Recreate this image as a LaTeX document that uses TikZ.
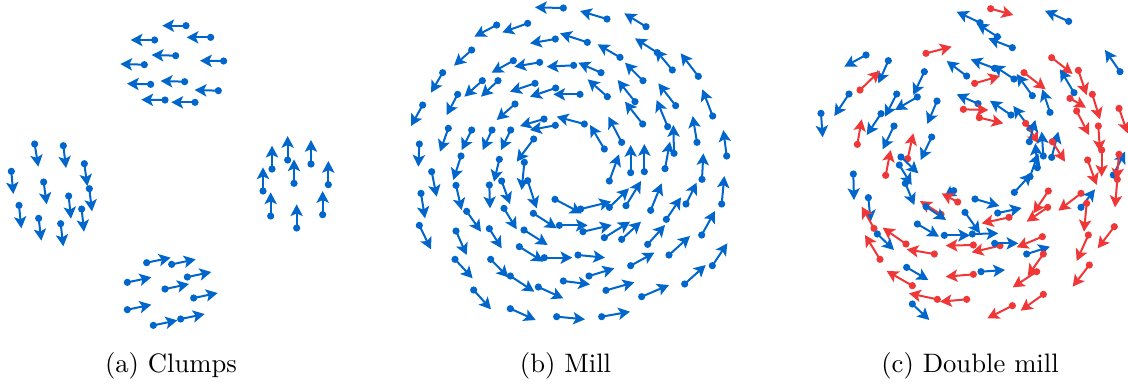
\documentclass[tikz,border=0pt]{standalone}
\usetikzlibrary{arrows.meta}
\definecolor{colb}{RGB}{0,102,204}
\definecolor{colr}{RGB}{240,55,55}
\tikzset{
  ag/.style={line width=0.75pt, -{Stealth[length=4.4pt,width=4.6pt,inset=1pt]}},
  zoomed/.style={x=0.125pt,y=-0.125pt}
}
\newcommand\agent[5]{\fill[#1] (#2,#3) circle (1.35pt); \draw[ag,#1] (#2,#3) -- (#4,#5);}
\begin{document}
\begin{tikzpicture}[x=0.375pt,y=-0.375pt]
\useasboundingbox (0,0) rectangle (1128,385);
% (a) Clumps
\begin{scope}[zoomed]
\foreach \a/\b/\c/\d in {
558/77/487/77, 632/112/560/112, 464/120/392/120, 527/167/455/165, 671/183/600/182,
433/194/361/192, 554/245/482/243, 452/253/381/251, 655/272/584/270, 495/300/424/299, 585/307/514/307,
104/432/115/500, 190/437/198/504, 253/491/262/558, 34/514/40/582, 131/546/140/613, 268/566/276/634,
206/588/213/656, 57/616/64/685, 245/627/252/695, 116/655/124/722, 182/671/190/739,
816/507/816/437, 863/480/863/408, 933/492/933/420, 882/550/882/478, 985/554/985/483,
789/573/789/502, 812/648/812/577, 968/644/968/573, 890/684/890/613,
440/788/512/773, 515/793/587/778, 382/847/454/832, 562/831/634/816, 495/867/567/852,
581/894/653/879, 382/929/454/914, 542/957/614/942, 460/976/532/961}
{\agent{colb}{\a}{\b}{\c}{\d}}
\end{scope}
% (b) Mill
\begin{scope}[shift={(395,0)},zoomed]
\foreach \a/\b/\c/\d in {
505/24/420/22, 636/57/555/33, 753/80/688/40, 305/75/238/110, 398/70/322/97,
481/117/405/130, 577/127/495/100, 230/150/177/197, 355/182/290/218, 434/187/358/200,
536/196/455/200, 618/218/550/188, 675/172/608/133, 787/158/720/115, 832/210/780/148,
910/229/857/160, 143/218/108/278, 262/242/208/290, 309/242/258/290, 420/250/345/275,
482/264/405/290, 555/283/475/283, 637/290/578/238, 744/242/690/188, 720/305/668/240,
842/317/790/250, 953/348/922/268, 83/315/48/378, 188/283/155/345, 360/312/305/360,
447/357/375/378, 481/376/405/390, 568/372/485/350, 628/447/585/375, 680/427/640/350,
743/372/690/305, 818/380/785/300, 837/460/835/375, 906/427/893/348, 995/468/985/390,
73/432/70/500, 160/385/135/455, 230/390/200/450, 291/390/263/450, 347/390/318/450,
416/417/365/485, 110/515/125/590, 198/468/175/540, 313/478/297/545, 388/487/380/570,
643/543/672/463, 707/518/707/435, 748/515/748/432, 810/506/825/425, 921/538/925/460,
78/580/90/655, 183/556/200/630, 283/555/285/625, 320/543/345/612, 398/542/425/625,
480/598/560/640, 557/627/648/605, 643/622/702/565, 693/617/738/543, 767/631/800/550,
873/612/905/548, 980/612/988/528, 73/676/108/748, 215/634/258/695, 327/625/365/688,
415/640/485/685, 493/676/578/676, 564/695/650/675, 628/713/705/665, 680/718/738/665,
814/658/858/592, 920/705/960/633, 183/693/215/765, 283/686/320/745, 387/690/458/735,
758/733/810/675, 373/740/445/785, 448/773/532/773, 549/765/630/773, 707/797/778/758,
822/765/885/708, 952/797/997/730, 180/778/233/835, 287/778/340/832, 346/828/418/875,
430/861/505/895, 505/843/585/853, 582/828/658/805, 633/871/718/847, 740/890/822/855,
869/852/932/795, 236/870/288/928, 346/926/422/960, 485/950/570/958, 620/950/705/935}
{\agent{colb}{\a}{\b}{\c}{\d}}
\end{scope}
% (c) Double mill
\begin{scope}[shift={(800,0)},zoomed]
\foreach \k/\a/\b/\c/\d in {
r/572/26/640/45, b/540/68/470/35, b/592/110/530/70, b/637/143/565/115, b/806/64/735/32,
b/198/165/133/200, b/265/182/235/250, r/378/160/455/140, r/180/270/240/212, b/147/282/103/348,
b/373/215/340/285, b/63/340/68/412, b/290/282/255/350, b/352/291/285/330, b/243/341/200/405,
b/500/228/440/183, b/584/205/512/178, b/642/237/578/195, r/524/250/600/228, b/697/287/650/222,
r/672/218/737/268, r/755/173/818/222, r/835/211/860/285, b/822/278/780/208, b/960/215/915/150,
b/750/337/727/268, r/810/295/858/323, r/877/283/900/358, r/830/333/867/405, r/957/325/983/400,
b/534/311/470/283, r/490/328/565/330, r/538/353/610/370, b/633/345/570/302, b/690/385/640/318,
r/677/370/716/430, b/411/303/382/372, r/172/433/185/358, b/282/378/248/448, b/395/411/362/480,
r/323/476/340/400, r/257/526/272/450, b/303/471/355/520, b/298/495/335/555, b/316/550/343/615,
b/688/425/706/360, b/730/468/725/395, b/755/472/775/395, r/757/425/795/485, r/895/378/900/455,
r/863/480/890/555, r/905/450/905/530, b/712/503/706/430, b/690/530/715/460, b/643/577/695/520,
b/940/525/975/455, r/957/463/950/540, r/952/538/945/622, b/160/522/162/600, b/205/593/212/665,
r/222/685/185/620, b/232/702/282/750, r/240/778/195/705, r/318/732/248/683, r/403/762/320/748,
b/352/672/417/710, b/461/572/432/592, r/473/606/425/580, r/423/643/360/603, b/378/620/438/660,
b/525/597/598/618, b/593/639/665/624, r/627/652/545/670, b/495/637/540/700, b/433/706/510/706,
b/517/702/595/700, r/745/573/700/640, r/743/622/680/665, r/843/580/775/632, b/843/622/885/568,
r/860/610/852/695, r/943/680/893/745, r/865/705/830/783, r/868/795/818/860, r/520/735/437/737,
r/600/737/515/757, b/584/730/655/730, r/727/710/650/742, b/680/762/750/740, r/730/762/683/828,
r/710/815/638/862, b/320/802/385/840, r/337/857/260/813, r/520/823/437/830, b/543/815/615/810,
r/412/898/327/880, r/500/898/420/905, b/337/912/388/960, r/637/917/562/955, r/730/883/662/932}
{\agent{col\k}{\a}{\b}{\c}{\d}}
\end{scope}
% captions
\node (capa) at (171,366) {(a) Clumps};
\node (capb) at (565.5,366) {(b) Mill};
\node (capc) at (970,366) {(c) Double mill};
\end{tikzpicture}
\end{document}
